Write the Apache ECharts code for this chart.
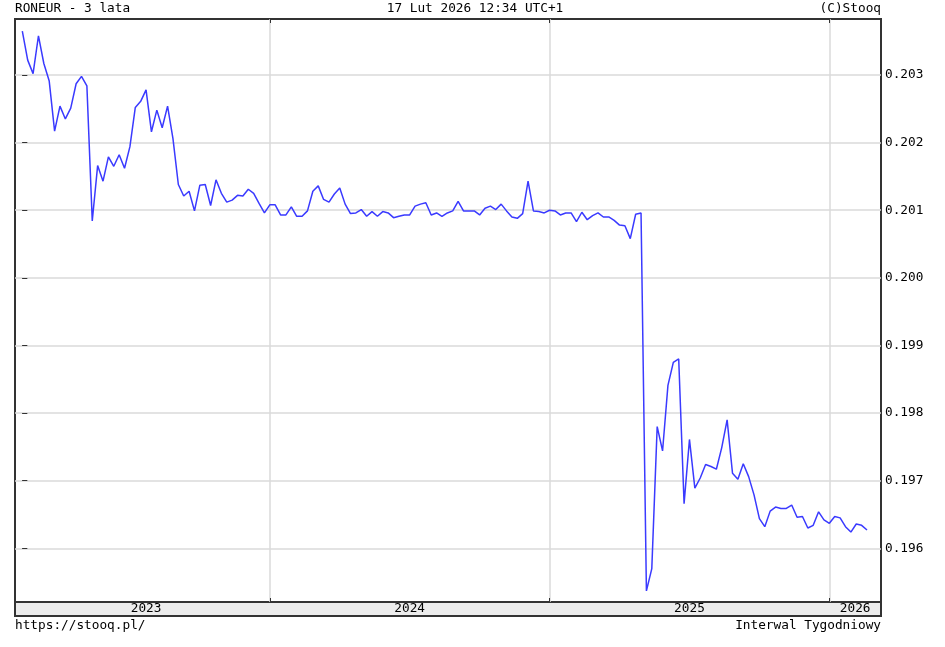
<!DOCTYPE html>
<html><head><meta charset="utf-8">
<script src="https://cdn.jsdelivr.net/npm/echarts@6/dist/echarts.min.js"></script>
<style>html,body{margin:0;padding:0;background:#fff}#c{width:945px;height:647px}</style>
</head><body><div id="c"></div>
<script>
// ---- texts ----
const titleText = 'RONEUR - 3 lata';
const stampText = '17 Lut 2026 12:34 UTC+1';
const copyrightText = '(C)Stooq';
const sourceText = 'https://stooq.pl/';
const intervalText = 'Interwal Tygodniowy';

// ---- data: weekly closes (RON/EUR), first week ending 2023-02-17 ----
const firstWeekEnd = '2023-02-17';
const closes = [
  0.20365,0.20322,0.20302,0.20358,0.20317,0.20291,0.20217,0.20254,0.20235,0.20251,
  0.20287,0.20298,0.20284,0.20084,0.20166,0.20143,0.20179,0.20165,0.20182,0.20162,
  0.20194,0.20252,0.20261,0.20278,0.20216,0.20248,0.20222,0.20254,0.20206,0.20138,
  0.20121,0.20128,0.20099,0.20137,0.20138,0.20107,0.20145,0.20125,0.20112,0.20115,
  0.20122,0.20121,0.20131,0.20125,0.20110,0.20096,0.20108,0.20108,0.20093,0.20093,
  0.20105,0.20091,0.20091,0.20099,0.20128,0.20136,0.20116,0.20112,0.20124,0.20133,
  0.20109,0.20095,0.20096,0.20101,0.20091,0.20098,0.20091,0.20098,0.20096,0.20089,
  0.20091,0.20093,0.20093,0.20106,0.20109,0.20111,0.20093,0.20096,0.20091,0.20096,
  0.20099,0.20113,0.20099,0.20099,0.20099,0.20093,0.20103,0.20106,0.20101,0.20109,
  0.20099,0.20090,0.20088,0.20095,0.20143,0.20099,0.20098,0.20096,0.20100,0.20099,
  0.20093,0.20096,0.20096,0.20083,0.20097,0.20086,0.20092,0.20096,0.20090,0.20090,
  0.20085,0.20078,0.20077,0.20058,0.20094,0.20096,0.19537,0.19570,0.19780,0.19744,
  0.19841,0.19875,0.19880,0.19666,0.19761,0.19689,0.19704,0.19724,0.19721,0.19717,
  0.19749,0.19790,0.19711,0.19702,0.19725,0.19706,0.19679,0.19644,0.19632,0.19655,
  0.19661,0.19659,0.19659,0.19664,0.19646,0.19647,0.19630,0.19634,0.19654,0.19642,
  0.19637,0.19647,0.19645,0.19632,0.19624,0.19636,0.19634,0.19627
];
const yTicks = [0.196, 0.197, 0.198, 0.199, 0.200, 0.201, 0.202, 0.203];
const yMin = 0.195206, yMax = 0.203828;
const xMin = -1.36, xMax = 159.6;

// week end dates (one per close)
const start = Date.parse(firstWeekEnd + 'T00:00:00Z');
const weeks = closes.map((_, i) => new Date(start + i * 7 * 86400000).toISOString().slice(0, 10));

// year boundaries and year label positions derived from the dates
const boundaries = [], years = [];
weeks.forEach((w, i) => {
  const y = w.slice(0, 4);
  if (i === 0 || y !== weeks[i - 1].slice(0, 4)) { years.push(y); if (i > 0) boundaries.push(i); }
});
const edges = [0, ...boundaries, xMax];
const yearPos = years.map((y, k) => (edges[k] + edges[k + 1]) / 2);
const yearAt = v => { let best = 0; yearPos.forEach((p, k) => { if (Math.abs(p - v) < Math.abs(yearPos[best] - v)) best = k; }); return years[best]; };

const FONT = 'DejaVu Sans Mono';
const FS = 12.75;
const TXT = '#000';
const GRIDC = '#dadada';
const FRAME = '#333';

const chart = echarts.init(document.getElementById('c'), null, { renderer: 'canvas' });
chart.setOption({
  animation: false,
  backgroundColor: '#fff',
  grid: [
    { left: 15, right: 64, top: 19, bottom: 45, show: true, backgroundColor: '#fff', borderColor: FRAME, borderWidth: 2 },
    { left: 15, right: 64, top: 602, height: 14, show: true, backgroundColor: '#ececec', borderColor: FRAME, borderWidth: 2 }
  ],
  xAxis: [
    { type: 'value', gridIndex: 0, position: 'bottom', min: xMin, max: xMax,
      axisLine: { show: false }, axisLabel: { show: false },
      axisTick: { show: true, inside: true, length: 4, customValues: boundaries, lineStyle: { color: FRAME, width: 1 } },
      splitLine: { show: true, lineStyle: { color: GRIDC, width: 1.5 } } },
    { type: 'value', gridIndex: 0, position: 'top', min: xMin, max: xMax,
      axisLine: { show: false }, axisLabel: { show: false },
      axisTick: { show: true, inside: true, length: 4, customValues: boundaries, lineStyle: { color: FRAME, width: 1 } },
      splitLine: { show: false } },
    { type: 'value', gridIndex: 1, position: 'bottom', min: xMin, max: xMax,
      axisLine: { show: false }, axisTick: { show: false }, splitLine: { show: false },
      axisLabel: { show: true, customValues: yearPos, formatter: v => yearAt(v), margin: -7.5, verticalAlign: 'middle',
        fontFamily: FONT, fontSize: FS, color: TXT } }
  ],
  yAxis: [
    { type: 'value', gridIndex: 0, position: 'right', min: yMin, max: yMax,
      axisLine: { show: false },
      axisTick: { show: true, length: 3, customValues: yTicks, lineStyle: { color: FRAME, width: 1 } },
      axisLabel: { show: true, customValues: yTicks, formatter: v => v.toFixed(3), margin: 4,
        fontFamily: FONT, fontSize: FS, color: TXT },
      splitLine: { show: true, lineStyle: { color: GRIDC, width: 1.5 } } },
    { type: 'value', gridIndex: 0, position: 'left', min: yMin, max: yMax,
      axisLine: { show: false }, axisLabel: { show: false },
      axisTick: { show: true, inside: true, length: 5, customValues: yTicks, lineStyle: { color: FRAME, width: 1 } },
      splitLine: { show: false } },
    { type: 'value', gridIndex: 1, show: false, min: 0, max: 1 }
  ],
  series: [{
    type: 'line', xAxisIndex: 0, yAxisIndex: 0, showSymbol: false, symbol: 'none',
    data: closes.map((v, i) => [i, v]),
    lineStyle: { color: '#3a3aff', width: 1.5 }, z: 5
  }],
  graphic: [
    { type: 'text', x: 15, y: 9, style: { text: titleText, font: `${FS}px "${FONT}"`, fill: TXT, textAlign: 'left', textVerticalAlign: 'middle' } },
    { type: 'text', x: 475, y: 9, style: { text: stampText, font: `${FS}px "${FONT}"`, fill: TXT, textAlign: 'center', textVerticalAlign: 'middle' } },
    { type: 'text', x: 881, y: 9, style: { text: copyrightText, font: `${FS}px "${FONT}"`, fill: TXT, textAlign: 'right', textVerticalAlign: 'middle' } },
    { type: 'text', x: 15, y: 625.5, style: { text: sourceText, font: `${FS}px "${FONT}"`, fill: TXT, textAlign: 'left', textVerticalAlign: 'middle' } },
    { type: 'text', x: 881, y: 625.5, style: { text: intervalText, font: `${FS}px "${FONT}"`, fill: TXT, textAlign: 'right', textVerticalAlign: 'middle' } }
  ]
});
</script>
</body></html>
